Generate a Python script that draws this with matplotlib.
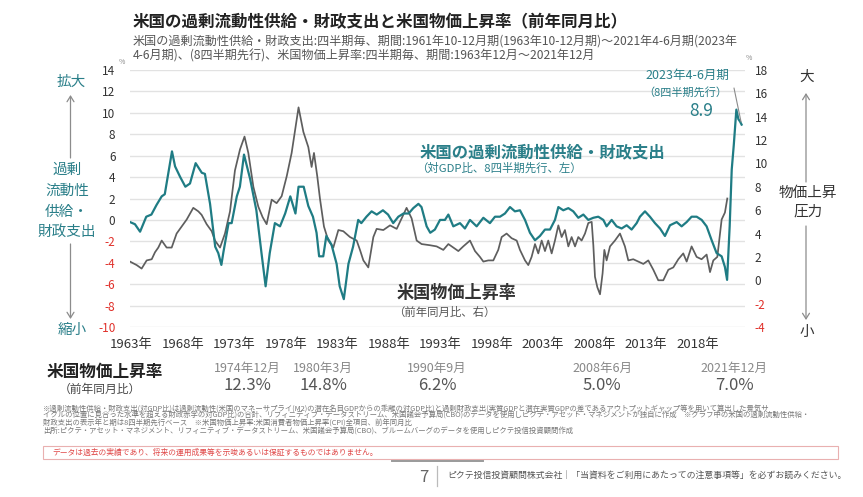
import matplotlib
matplotlib.use("Agg")
import matplotlib.pyplot as plt
from matplotlib.patches import Rectangle
from matplotlib.lines import Line2D

plt.rcParams['font.family'] = ['Noto Sans CJK JP', 'DejaVu Sans']

# ---------------- data ----------------
# US excess liquidity + fiscal spending (% of GDP, 8 quarters lead, left axis)
liq_year = [1963.92, 1964.4, 1964.9, 1965.5, 1966.0, 1966.5, 1967.0, 1967.3, 1968.0, 1968.3,
            1968.8, 1969.3, 1969.75, 1970.3, 1970.9, 1971.2, 1971.7, 1972.2, 1972.5, 1972.8,
            1973.0, 1973.5, 1973.8, 1974.3, 1974.6, 1975.0, 1975.6, 1976.2, 1976.7, 1977.1,
            1977.5, 1978.0, 1978.5, 1979.0, 1979.5, 1980.0, 1980.3, 1980.8, 1981.25, 1981.7,
            1982.05, 1982.3, 1982.7, 1983.0, 1983.5, 1984.0, 1984.3, 1984.7, 1985.15, 1985.6,
            1986.1, 1986.4, 1986.9, 1987.4, 1987.9, 1988.5, 1989.0, 1989.5, 1990.0, 1990.5,
            1991.0, 1991.45, 1991.95, 1992.25, 1992.75, 1993.1, 1993.55, 1994.05, 1994.53, 1994.86,
            1995.34, 1995.99, 1996.47, 1996.96, 1997.61, 1998.26, 1998.9, 1999.39, 1999.88, 2000.36,
            2000.85, 2001.33, 2001.82, 2002.31, 2002.79, 2003.28, 2003.76, 2004.25, 2004.74, 2005.22,
            2005.55, 2006.03, 2006.52, 2007.0, 2007.49, 2007.98, 2008.46, 2008.95, 2009.43, 2009.92,
            2010.24, 2010.73, 2011.21, 2011.7, 2012.19, 2012.67, 2013.16, 2013.48, 2013.97, 2014.45,
            2014.94, 2015.43, 2015.91, 2016.4, 2017.05, 2017.53, 2018.02, 2018.5, 2018.99, 2019.48,
            2019.96, 2020.45, 2020.93, 2021.42, 2021.74, 2021.95, 2022.2, 2022.4, 2022.6, 2022.85,
            2023.05, 2023.2, 2023.36]
liq_val = [-0.2, -0.4, -1.1, 0.3, 0.5, 1.4, 2.2, 2.4, 6.4, 5.0,
           4.0, 3.1, 3.4, 5.3, 4.4, 4.3, 1.5, -2.5, -3.1, -4.2,
           -3.0, -0.3, -0.3, 2.2, 3.1, 6.1, 3.8, 0.9, -3.1, -6.2,
           -3.1, -0.3, -0.6, 0.6, 2.2, 0.6, 3.1, 3.1, 1.3, 0.3,
           -1.2, -3.4, -3.4, -1.5, -2.3, -4.1, -6.2, -7.4, -4.1, -2.5,
           0.0, -0.3, 0.3, 0.8, 0.5, 0.9, 0.5, -0.3, 0.3, 0.6,
           0.6, 1.1, 1.5, 1.2, -0.6, -1.2, -0.9, 0.0, 0.0, 0.5,
           -0.6, -0.3, -0.8, 0.0, -0.6, 0.2, -0.3, 0.3, 0.3, 0.6,
           1.2, 0.8, 0.9, 0.0, -1.2, -1.9, -1.5, -0.9, -0.9, 0.0,
           1.2, 0.9, 1.1, 0.8, 0.2, 0.5, 0.0, 0.2, 0.3, 0.0,
           -0.6, 0.0, -0.6, -0.8, -0.5, -0.9, -0.3, 0.3, 0.8, 0.3,
           -0.3, -0.8, -1.5, -0.5, -0.2, -0.6, -0.2, 0.3, 0.3, 0.0,
           -0.6, -1.9, -3.1, -3.4, -4.4, -5.6, -0.6, 4.7, 7.0, 10.3,
           9.4, 9.2, 8.9]

# US CPI (YoY %, right axis)
cpi_year = [1963.92, 1964.57, 1965.05, 1965.54, 1966.03, 1966.35, 1966.67, 1967.0, 1967.48, 1967.97,
            1968.45, 1968.94, 1969.43, 1970.07, 1970.56, 1970.88, 1971.37, 1971.86, 1972.18, 1972.67,
            1973.15, 1973.64, 1974.12, 1974.61, 1975.05, 1975.42, 1975.91, 1976.39, 1976.81, 1977.2,
            1977.69, 1978.17, 1978.66, 1979.15, 1979.63, 1980.3, 1980.77, 1981.25, 1981.57, 1981.8,
            1982.12, 1982.38, 1982.77, 1983.19, 1983.68, 1984.17, 1984.65, 1985.3, 1985.95, 1986.27,
            1986.6, 1987.08, 1987.57, 1987.89, 1988.54, 1989.19, 1989.84, 1990.32, 1990.8, 1991.29,
            1991.78, 1992.26, 1993.07, 1993.72, 1994.37, 1994.86, 1995.34, 1995.83, 1996.31, 1996.96,
            1997.45, 1997.93, 1998.26, 1998.74, 1999.23, 1999.71, 2000.04, 2000.52, 2001.01, 2001.5,
            2001.82, 2002.31, 2002.63, 2002.95, 2003.28, 2003.6, 2003.93, 2004.25, 2004.57, 2004.9,
            2005.22, 2005.55, 2005.87, 2006.19, 2006.52, 2006.84, 2007.17, 2007.49, 2007.81, 2008.14,
            2008.46, 2008.79, 2008.95, 2009.11, 2009.34, 2009.6, 2009.85, 2010.02, 2010.24, 2010.57,
            2011.05, 2011.54, 2012.02, 2012.35, 2012.83, 2013.32, 2013.81, 2014.29, 2014.78, 2015.26,
            2015.75, 2016.24, 2016.72, 2017.21, 2017.69, 2018.02, 2018.5, 2018.99, 2019.47, 2019.96,
            2020.29, 2020.61, 2021.0, 2021.26, 2021.42, 2021.74, 2021.97]
cpi_val = [1.6, 1.3, 1.0, 1.7, 1.8, 2.4, 2.8, 3.4, 2.8, 2.8,
           4.0, 4.6, 5.2, 6.2, 5.9, 5.6, 4.8, 4.2, 3.4, 2.8,
           4.0, 5.9, 9.4, 11.2, 12.3, 10.9, 8.0, 6.3, 5.4, 4.8,
           6.9, 6.6, 7.2, 8.9, 10.9, 14.8, 12.7, 11.4, 9.7, 10.9,
           8.9, 7.0, 4.6, 3.4, 2.8, 4.3, 4.2, 3.7, 3.4, 2.6,
           1.7, 1.1, 3.7, 4.4, 4.3, 4.7, 4.4, 5.3, 6.2, 5.3,
           3.4, 3.1, 3.0, 2.9, 2.6, 3.1, 2.8, 2.5, 2.9, 3.4,
           2.5, 2.0, 1.6, 1.7, 1.7, 2.6, 3.7, 4.0, 3.6, 3.4,
           2.6, 1.7, 1.3, 2.0, 3.1, 2.3, 3.4, 2.5, 3.4, 2.3,
           3.4, 4.7, 3.7, 4.3, 2.9, 3.7, 2.9, 3.7, 3.4, 4.0,
           4.9, 5.0, 3.0, 0.3, -0.6, -1.2, 0.6, 2.6, 1.7, 2.9,
           3.4, 4.0, 2.9, 1.7, 1.8, 1.6, 1.4, 1.7, 0.9, 0.0,
           0.0, 0.9, 1.1, 1.8, 2.3, 1.6, 2.9, 2.0, 1.8, 2.2,
           0.7, 1.7, 2.0, 4.0, 5.2, 5.8, 7.0]

left_ticks = [-10, -8, -6, -4, -2, 0, 2, 4, 6, 8, 10, 12, 14]
right_ticks = [-4, -2, 0, 2, 4, 6, 8, 10, 12, 14, 16, 18]
x_years = [1963, 1968, 1973, 1978, 1983, 1988, 1993, 1998, 2003, 2008, 2013, 2018]

peak_dates = ['1974年12月', '1980年3月', '1990年9月', '2008年6月', '2021年12月']
peak_values = [12.3, 14.8, 6.2, 5.0, 7.0]
last_liq_label = '8.9'

# ---------------- styles ----------------
TEAL = '#1f7c84'
TEAL_TXT = '#2a7f89'
GRAY_LINE = '#5e5e5e'
RED = '#e0302a'
W, H = 863, 497


def fx(x):
    return x / W


def fy(y):
    return 1 - y / H


fig = plt.figure(figsize=(W / 100, H / 100), dpi=100)
fig.patch.set_facecolor('white')
ax = fig.add_axes([fx(130), fy(327), 615 / W, 257 / H])
ax2 = ax.twinx()

ax.set_xlim(1963.92, 2023.69)
ax.set_ylim(-10, 14)
ax2.set_ylim(-4, 18)

for a in (ax, ax2):
    for s in a.spines.values():
        s.set_visible(False)

ax.set_yticks(left_ticks, labels=[str(v) for v in left_ticks])
ax.grid(axis='y', color='#e2e2e2', lw=1.0)
ax.set_axisbelow(True)
ax.tick_params(axis='y', length=0, pad=10.5, labelsize=8.5)
for lbl, v in zip(ax.get_yticklabels(), left_ticks):
    lbl.set_color(RED if v < 0 else '#333333')

ax2.set_yticks(right_ticks, labels=[str(v) for v in right_ticks])
ax2.tick_params(axis='y', length=0, pad=7, labelsize=8.5)
for lbl, v in zip(ax2.get_yticklabels(), right_ticks):
    lbl.set_color(RED if v < 0 else '#333333')

ax.set_xticks([y + 1.07 for y in x_years], labels=[f'{y}年' for y in x_years])
ax.tick_params(axis='x', length=0, pad=8, labelsize=9.5, labelcolor='#333333')

# lines: CPI drawn in ax with the right-axis transform so teal stays on top
ax.plot(cpi_year, cpi_val, color=GRAY_LINE, lw=1.25, transform=ax2.transData, zorder=2)
ax.plot(liq_year, liq_val, color=TEAL, lw=1.6, zorder=3)

ax.annotate('', xy=(liq_year[-1], liq_val[-1]), xycoords='data',
            xytext=(734, H - 88), textcoords='figure pixels',
            arrowprops=dict(arrowstyle='-', color='#8a8a8a', lw=0.8, shrinkA=0, shrinkB=2))

# ---------------- texts ----------------
fig.text(fx(133), fy(22), '米国の過剰流動性供給・財政支出と米国物価上昇率（前年同月比）',
         fontsize=11.9, fontweight='bold', color='#222222', va='center', ha='left')
fig.text(fx(133), fy(41), '米国の過剰流動性供給・財政支出:四半期毎、期間:1961年10-12月期(1963年10-12月期)～2021年4-6月期(2023年',
         fontsize=8.7, color='#555555', va='center', ha='left')
fig.text(fx(133), fy(56), '4-6月期)、(8四半期先行)、米国物価上昇率:四半期毎、期間:1963年12月～2021年12月',
         fontsize=8.7, color='#555555', va='center', ha='left')
fig.text(fx(122), fy(62), '%', fontsize=5, color='#888888', va='center', ha='center')
fig.text(fx(749), fy(58), '%', fontsize=5, color='#888888', va='center', ha='center')

# in-plot labels
fig.text(fx(420), fy(152), '米国の過剰流動性供給・財政支出', fontsize=11.8, fontweight='bold',
         color=TEAL_TXT, va='center', ha='left')
fig.text(fx(416), fy(168), '（対GDP比、8四半期先行、左）', fontsize=8.2, color=TEAL_TXT,
         va='center', ha='left')
fig.text(fx(397), fy(293), '米国物価上昇率', fontsize=12.3, fontweight='bold', color='#333333',
         va='center', ha='left')
fig.text(fx(393), fy(312), '（前年同月比、右）', fontsize=8.2, color='#555555', va='center', ha='left')
fig.text(fx(687), fy(75), '2023年4-6月期', fontsize=9, color=TEAL_TXT, va='center', ha='center')
fig.text(fx(685), fy(92), '（8四半期先行）', fontsize=8, color=TEAL_TXT, va='center', ha='center')
fig.text(fx(701), fy(111), last_liq_label, fontsize=12.5, color=TEAL_TXT, va='center', ha='center')

# side descriptors and arrows
def v_arrow(x, y0, y1):
    fig.add_artist(matplotlib.patches.FancyArrowPatch(
        (fx(x), fy(y0)), (fx(x), fy(y1)), transform=fig.transFigure,
        arrowstyle='->,head_length=4,head_width=2.5', color='#8c8c8c', lw=0.9,
        shrinkA=0, shrinkB=0))


fig.text(fx(71), fy(82), '拡大', fontsize=10.5, color=TEAL_TXT, va='center', ha='center')
v_arrow(70.5, 158, 95)
for yy, t in zip([170, 191, 212, 232], ['過剰', '流動性', '供給・', '財政支出']):
    fig.text(fx(67), fy(yy), t, fontsize=10.5, color=TEAL_TXT, va='center', ha='center')
v_arrow(70.5, 244, 319)
fig.text(fx(72), fy(330), '縮小', fontsize=10.5, color=TEAL_TXT, va='center', ha='center')

fig.text(fx(807), fy(77), '大', fontsize=10.5, color='#333333', va='center', ha='center')
v_arrow(806, 182, 93)
fig.text(fx(808), fy(193), '物価上昇', fontsize=10.5, color='#333333', va='center', ha='center')
fig.text(fx(808), fy(212), '圧力', fontsize=10.5, color='#333333', va='center', ha='center')
v_arrow(806, 226, 320)
fig.text(fx(807), fy(332), '小', fontsize=10.5, color='#333333', va='center', ha='center')

# bottom table
fig.text(fx(105), fy(372), '米国物価上昇率', fontsize=12, fontweight='bold', color='#222222',
         va='center', ha='center')
fig.text(fx(100), fy(389), '（前年同月比）', fontsize=8.5, color='#444444', va='center', ha='center')
table_x = [247, 323, 437, 602, 734]
for xx, d, v in zip(table_x, peak_dates, peak_values):
    fig.text(fx(xx), fy(368), d, fontsize=9, color='#888888', va='center', ha='center')
    fig.text(fx(xx), fy(386), f'{v:.1f}%', fontsize=12, color='#555555', va='center', ha='center')

# footnotes
notes = [
    '※過剰流動性供給・財政支出(対GDP比)は過剰流動性(米国のマネーサプライ(M2)の潜在名目GDPからの乖離の対GDP比)と過剰財政支出(実質GDPと潜在実質GDPの差であるアウトプットギャップ等を用いて算出した景気サ',
    'イクルの位置に見合った水準を超える財政赤字の対GDP比)の合計、リフィニティブ・データストリーム、米国議会予算局(CBO)のデータを使用しピクテ・アセット・マネジメントが独自に作成　※グラフ中の米国の過剰流動性供給・',
    '財政支出の表示年と期は8四半期先行ベース　※米国物価上昇率:米国消費者物価上昇率(CPI)全項目、前年同月比',
    '出所:ピクテ・アセット・マネジメント、リフィニティブ・データストリーム、米国議会予算局(CBO)、ブルームバーグのデータを使用しピクテ投信投資顧問作成',
]
for yy, t in zip([408.3, 416.0, 423.7, 431.4], notes):
    fig.text(fx(43), fy(yy), t, fontsize=5.3, color='#777777', va='center', ha='left')

fig.add_artist(Rectangle((fx(43), fy(459)), (838 - 43) / W, 13 / H, transform=fig.transFigure,
                         fill=False, edgecolor='#e9b0b0', lw=0.8))
fig.text(fx(52), fy(452.5), 'データは過去の実績であり、将来の運用成果等を示唆あるいは保証するものではありません。',
         fontsize=5.6, color='#e04848', va='center', ha='left')

fig.add_artist(Line2D([fx(392), fx(483)], [fy(460.5), fy(460.5)], transform=fig.transFigure,
                      color='#9a9a9a', lw=1.4))
fig.add_artist(Line2D([fx(437), fx(437)], [fy(466), fy(486)], transform=fig.transFigure,
                      color='#bbbbbb', lw=0.9))
fig.text(fx(424), fy(477), '7', fontsize=12, color='#666666', va='center', ha='center')
fig.text(fx(447), fy(476), 'ピクテ投信投資顧問株式会社｜「当資料をご利用にあたっての注意事項等」を必ずお読みください。',
         fontsize=6.4, color='#555555', va='center', ha='left')

fig.savefig('out.png', dpi=100, facecolor='white')
